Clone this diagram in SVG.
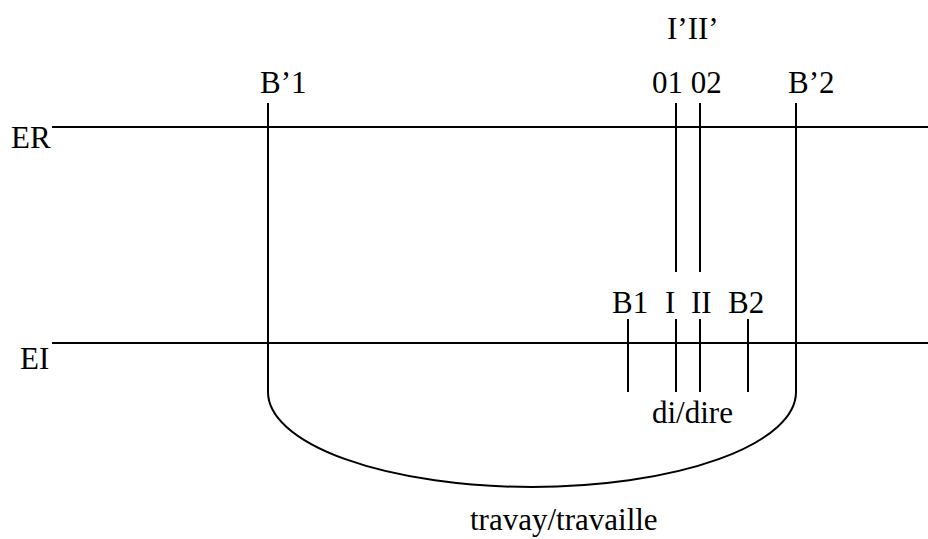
<svg xmlns="http://www.w3.org/2000/svg" width="928" height="539" viewBox="0 0 928 539">
<style>
.t{font-family:"Liberation Serif","Times New Roman",serif;font-size:31px;fill:#000}
.l{stroke:#000;stroke-width:2;fill:none}
</style>
<rect width="928" height="539" fill="#fff"/>
<g id="connectors">
<line class="l" x1="52" y1="127" x2="928" y2="127"/>
<line class="l" x1="52" y1="343" x2="928" y2="343"/>
<path class="l" d="M268,103 V392 A264,95 0 0 0 796,392 V103"/>
<line class="l" x1="676" y1="103" x2="676" y2="272"/>
<line class="l" x1="700" y1="103" x2="700" y2="272"/>
<line class="l" x1="628" y1="319" x2="628" y2="392"/>
<line class="l" x1="676" y1="319" x2="676" y2="392"/>
<line class="l" x1="700" y1="319" x2="700" y2="392"/>
<line class="l" x1="748" y1="319" x2="748" y2="392"/>
</g>
<g id="ER"><text class="t" x="11" y="148">ER</text></g>
<g id="EI"><text class="t" x="20" y="369">EI</text></g>
<g id="B1p"><text class="t" x="260" y="93">B’1</text></g>
<g id="B2p"><text class="t" x="788" y="93">B’2</text></g>
<g id="IIIp"><text class="t" x="667" y="39">I’II’</text></g>
<g id="o1o2"><text class="t" x="652" y="93">01 02</text></g>
<g id="B1"><text class="t" x="612" y="313">B1</text></g>
<g id="I"><text class="t" x="665" y="313">I</text></g>
<g id="II"><text class="t" x="691" y="313">II</text></g>
<g id="B2"><text class="t" x="728" y="313">B2</text></g>
<g id="didire"><text class="t" x="652" y="423">di/dire</text></g>
<g id="travay"><text class="t" x="470" y="530">travay/travaille</text></g>
</svg>
